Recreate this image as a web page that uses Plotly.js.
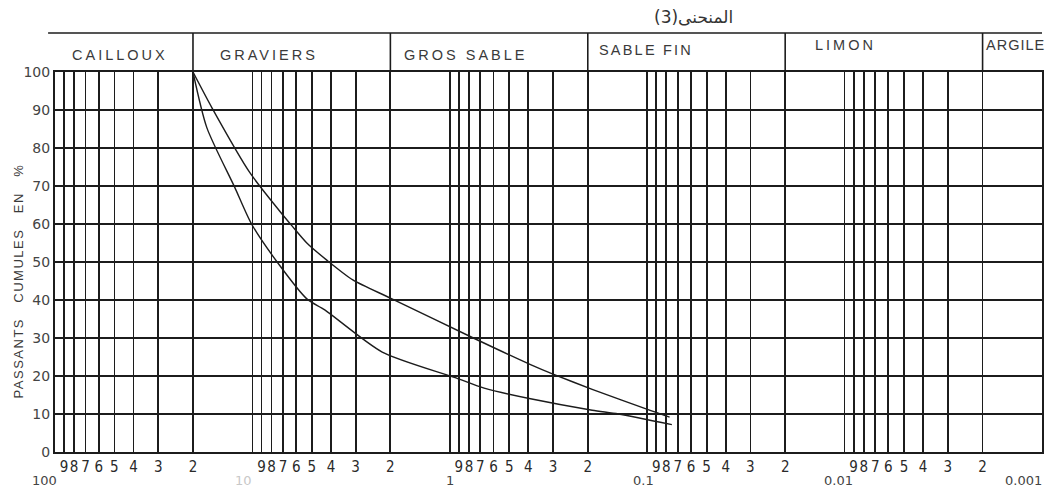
<!DOCTYPE html>
<html>
<head>
<meta charset="utf-8">
<script src="https://cdn.plot.ly/plotly-3.0.1.min.js"></script>
<style>
html,body{margin:0;padding:0;background:#fff;}
#chart{width:1056px;height:488px;}
</style>
</head>
<body>
<div id="chart"></div>
<script>
// ---- data ----
// grain diameter (mm) and cumulative passing (%)
var curveA_d = [20, 16, 10.3, 7.3, 6.3, 5.3, 4.2, 3.1, 2.0, 0.76, 0.39, 0.30, 0.19, 0.095, 0.077];
var curveA_p = [100, 90.5, 73.5, 63.5, 59.5, 55, 50.5, 45.3, 40.5, 30, 23, 20.5, 16.5, 10.8, 9.2];
var curveB_d = [20, 17, 12.3, 10.1, 7.3, 5.3, 4.3, 2.2, 0.93, 0.67, 0.39, 0.19, 0.14, 0.075];
var curveB_p = [100, 85.3, 69.7, 60, 49.2, 40.3, 37.4, 26.3, 19.5, 16.8, 14, 11, 10, 7.2];

var sectionNames = ['CAILLOUX', 'GRAVIERS', 'GROS SABLE', 'SABLE FIN', 'LIMON', 'ARGILE'];
var sectionBounds = [100, 20, 2, 0.2, 0.02, 0.002, 0.001];

var decades = [100, 10, 1, 0.1, 0.01, 0.001];
var decadeLabels = ['100', '10', '1', '0.1', '0.01', '0.001'];
var tickDigits = [9, 8, 7, 6, 5, 4, 3, 2];
var tickDigitLabels = ['9', '8', '7', '6', '5', '4', '3', '2'];

var yTicks = [0, 10, 20, 30, 40, 50, 60, 70, 80, 90, 100];
var yTitle = 'PASSANTS CUMULES EN %';
var chartNote = '(3)المنحنى';

// ---- build ticks ----
var tickvals = [], ticktext = [];
decades.forEach(function (dec) { tickvals.push(dec); ticktext.push(''); });
decades.slice(1).forEach(function (dec) {
  tickDigits.forEach(function (m, i) {
    tickvals.push(m * dec);
    ticktext.push(tickDigitLabels[i]);
  });
});

var ink = '#1c1c1c';
var hdrTop = 1.1026;

var traces = [
  {x: curveA_d, y: curveA_p, type: 'scatter', mode: 'lines',
   line: {color: ink, width: 1.4, shape: 'spline', smoothing: 0.7}, hoverinfo: 'skip'},
  {x: curveB_d, y: curveB_p, type: 'scatter', mode: 'lines',
   line: {color: ink, width: 1.4, shape: 'spline', smoothing: 0.7}, hoverinfo: 'skip'}
];

var shapes = [];
// header top rule
shapes.push({type: 'line', xref: 'paper', yref: 'paper', x0: -0.007, x1: 1, y0: hdrTop, y1: hdrTop,
             line: {color: ink, width: 1.6}});
// section dividers in header
sectionBounds.slice(1, sectionBounds.length - 1).forEach(function (b) {
  shapes.push({type: 'line', xref: 'x', yref: 'paper', x0: b, x1: b, y0: 1, y1: hdrTop,
               line: {color: ink, width: 1.6}});
});

var annotations = [];
// section labels
var labelShift = [15, 25, 12, 9, 28, 1];
var labelY = [1.0447, 1.0447, 1.0447, 1.058, 1.071, 1.071];
var labelSpacing = [3, 3, 3, 2.2, 3, 1];
sectionNames.forEach(function (name, i) {
  annotations.push({xref: 'x', yref: 'paper', x: Math.log10(sectionBounds[i]), y: labelY[i],
    xanchor: 'left', yanchor: 'middle', xshift: labelShift[i], showarrow: false,
    text: '<span style="letter-spacing:' + labelSpacing[i] + 'px">' + name + '</span>',
    font: {family: 'Liberation Sans, Arial, sans-serif', size: 14.5, color: '#3a3a3a'}});
});
// decade labels (second row)
var decShiftX = [4, 2, 0, -4, -6, 2];
var decShiftY = [-28, -28, -28, -28, -28, -28];
var decAnchor = ['right', 'right', 'center', 'center', 'center', 'right'];
var decColor = ['#444', '#c8c8c8', '#444', '#444', '#444', '#444'];
decades.forEach(function (dec, i) {
  annotations.push({xref: 'x', yref: 'paper', x: Math.log10(dec), y: 0, yanchor: 'middle',
    xanchor: decAnchor[i], xshift: decShiftX[i], yshift: decShiftY[i], showarrow: false,
    text: decadeLabels[i],
    font: {family: 'DejaVu Sans, sans-serif', size: 13, color: decColor[i]}});
});
// y title
annotations.push({xref: 'paper', yref: 'paper', x: 0, y: 0.449, xshift: -37, showarrow: false,
  textangle: -90, xanchor: 'center', yanchor: 'middle',
  text: '<span style="letter-spacing:1.5px">' + yTitle.split(' ').join('\u00A0\u00A0\u00A0') + '</span>',
  font: {family: 'Liberation Sans, Arial, sans-serif', size: 13, color: '#3a3a3a'}});
// note at top
annotations.push({xref: 'paper', yref: 'paper', x: 0.6045, y: 1.113, xanchor: 'left', yanchor: 'bottom',
  showarrow: false, text: chartNote,
  font: {family: 'DejaVu Sans, sans-serif', size: 17, color: '#333'}});

var layout = {
  width: 1056, height: 488,
  margin: {l: 55, r: 14, t: 72, b: 36},
  paper_bgcolor: '#fff', plot_bgcolor: '#fff',
  showlegend: false, hovermode: false,
  xaxis: {type: 'log', range: [2, -3], tickvals: tickvals, ticktext: ticktext, tickangle: 0,
    tickfont: {family: 'Liberation Sans Narrow, DejaVu Sans Condensed, sans-serif', size: 15, color: '#2a2a2a'},
    showgrid: true, gridcolor: ink, gridwidth: 1.8, showline: true, linecolor: ink, linewidth: 2,
    mirror: true, ticks: '', zeroline: false, fixedrange: true},
  yaxis: {range: [0, 100], tickvals: yTicks, ticktext: yTicks.map(String),
    tickfont: {family: 'DejaVu Sans, sans-serif', size: 14, color: '#444'},
    showgrid: true, gridcolor: ink, gridwidth: 1.6, showline: true, linecolor: ink, linewidth: 2,
    mirror: true, ticks: '', zeroline: false, fixedrange: true},
  shapes: shapes,
  annotations: annotations
};

Plotly.newPlot('chart', traces, layout, {displayModeBar: false, staticPlot: true});
</script>
</body>
</html>
